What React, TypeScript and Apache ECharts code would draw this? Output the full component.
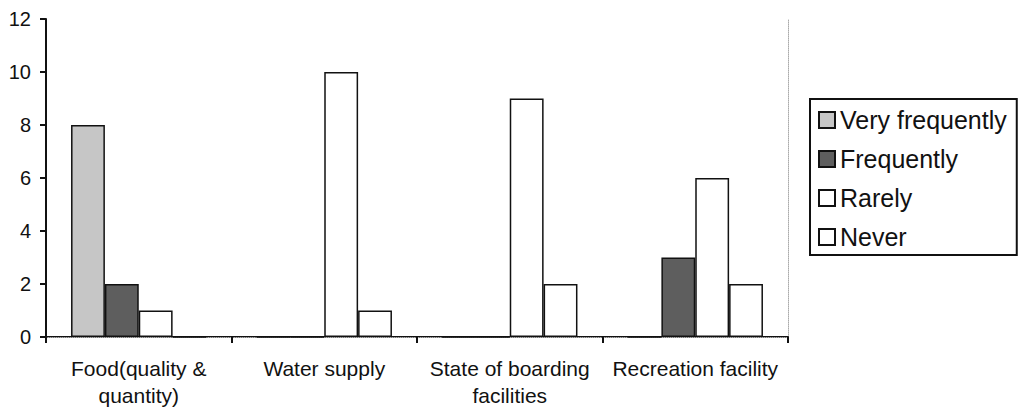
import React, { useEffect, useRef } from "react";
import * as echarts from "echarts";

const categories = [
  "Food(quality &\nquantity)",
  "Water supply",
  "State of boarding\nfacilities",
  "Recreation facility",
];
const seriesNames = ["Very frequently", "Frequently", "Rarely", "Never"];
const veryFrequently = [8, 0, 0, 0];
const frequently = [2, 0, 0, 3];
const rarely = [1, 10, 9, 6];
const never = [0, 1, 2, 2];
const seriesColors = ["#c6c6c6", "#5e5e5e", "#ffffff", "#ffffff"];

export default function App() {
  const ref = useRef<HTMLDivElement>(null);
  useEffect(() => {
    if (!ref.current) return;
    const chart = echarts.init(ref.current, null, { renderer: "svg" });
    const font = "'Liberation Sans', Arial, sans-serif";
    const values = [veryFrequently, frequently, rarely, never];
    chart.setOption({
      animation: false,
      backgroundColor: "#ffffff",
      textStyle: { fontFamily: font, color: "#111" },
      grid: { left: 46, top: 19, right: 241, bottom: 73 },
      legend: {
        orient: "vertical",
        left: 810,
        top: 99,
        padding: [8, 10, 5, 8],
        borderColor: "#111",
        borderWidth: 2,
        itemWidth: 16,
        itemHeight: 16,
        itemGap: 13,
        icon: "rect",
        textStyle: { fontSize: 25, lineHeight: 26, color: "#111", fontFamily: font },
        data: seriesNames,
      },
      xAxis: [
        {
          type: "category",
          data: categories,
          axisLine: { lineStyle: { color: "#111", width: 2 } },
          axisTick: { show: true, length: 6, lineStyle: { color: "#111", width: 2 } },
          axisLabel: {
            fontSize: 21,
            lineHeight: 27,
            margin: 18,
            color: "#111",
            fontFamily: font,
            interval: 0,
          },
        },
        {
          type: "category",
          position: "top",
          data: categories,
          axisLine: { lineStyle: { color: "#aaaaaa", width: 1, type: "dotted" } },
          axisTick: { show: false },
          axisLabel: { show: false },
        },
      ],
      yAxis: [
        {
          type: "value",
          min: 0,
          max: 12,
          interval: 2,
          axisLine: { show: true, lineStyle: { color: "#111", width: 2 } },
          axisTick: { show: true, length: 6, lineStyle: { color: "#111", width: 2 } },
          splitLine: { show: false },
          axisLabel: { fontSize: 20, margin: 15, color: "#111", fontFamily: font },
        },
        {
          type: "value",
          position: "right",
          min: 0,
          max: 12,
          interval: 2,
          axisLine: { show: true, lineStyle: { color: "#aaaaaa", width: 1, type: "dotted" } },
          axisTick: { show: false },
          splitLine: { show: false },
          axisLabel: { show: false },
        },
      ],
      series: seriesNames.map((name, i) => ({
        name,
        type: "bar",
        data: values[i],
        barGap: "0%",
        barCategoryGap: "27%",
        itemStyle: { color: seriesColors[i], borderColor: "#111", borderWidth: 1.5 },
      })),
    });
    return () => chart.dispose();
  }, []);
  return (
    <div
      ref={ref}
      style={{ position: "fixed", left: 0, top: 0, width: 1029, height: 410, background: "#fff" }}
    />
  );
}
